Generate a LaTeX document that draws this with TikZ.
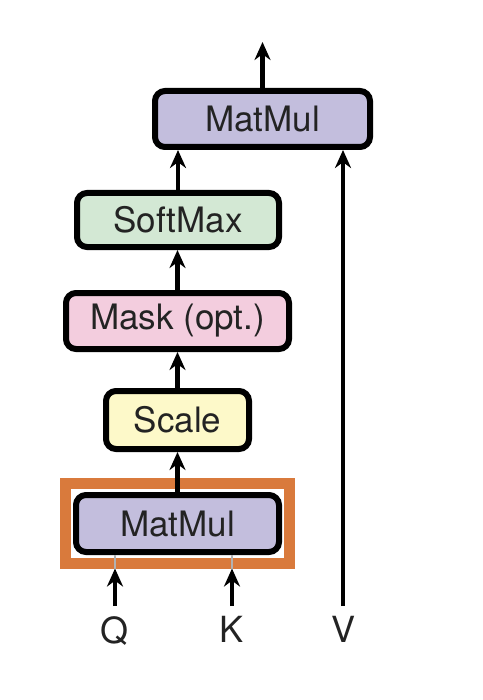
\documentclass[tikz,border=0pt]{standalone}
\usepackage{fontspec}
\setmainfont{TeX Gyre Heros}
\usetikzlibrary{arrows.meta}
\usetikzlibrary{calc,positioning}

\definecolor{mmcol}{RGB}{195,190,221}
\definecolor{smcol}{RGB}{211,232,212}
\definecolor{mkcol}{RGB}{243,205,222}
\definecolor{sccol}{RGB}{253,249,201}
\definecolor{hlcol}{RGB}{217,122,60}
\definecolor{txtcol}{RGB}{35,35,35}

\tikzset{
    block/.style = {draw=black, line width=3pt, rounded corners=5pt, inner sep=0pt,
                    text=txtcol, font=\fontsize{17.5}{20}\selectfont},
    flow/.style  = {->, line width=2.2pt},
    lbl/.style   = {anchor=north, inner sep=5pt, text=txtcol, font=\fontsize{18}{20}\selectfont}
}

\begin{document}
\begin{tikzpicture}[>={Stealth[length=9pt,width=8pt]}, x=0.5pt, y=-0.5pt]

    \useasboundingbox (0,0) rectangle (482,700);

    % blocks, bottom to top
    \node[block, fill=mmcol, minimum width=101.5pt, minimum height=28.5pt] (mm1) at (177.5,523.5) {MatMul};
    \node[block, fill=sccol, minimum width=71.5pt, minimum height=29pt] (scale) at (177.5,420) {Scale};
    \node[block, fill=mkcol, minimum width=111.5pt, minimum height=28pt] (mask) at (177.5,321) {Mask (opt.)};
    \node[block, fill=smcol, minimum width=101pt, minimum height=27pt] (smax) at (178,220) {SoftMax};
    \node[block, fill=mmcol, minimum width=107.5pt, minimum height=28pt] (mm2) at (262.5,119) {MatMul};

    % highlight frame
    \node[draw=hlcol, line width=5.5pt, minimum width=112pt, minimum height=39.75pt] (hl) at (177.25,523.25) {};

    % inputs
    \node[lbl] (q) at (115,606) {Q};
    \node[lbl] (k) at (232,606) {K};
    \node[lbl] (v) at (343,606) {V};

    \draw[gray!60, line width=0.6pt] (q |- hl.south) -- (q |- mm1.south);
    \draw[gray!60, line width=0.6pt] (k |- hl.south) -- (k |- mm1.south);

    \draw[flow] (q.north) -- (q |- hl.south);
    \draw[flow] (k.north) -- (k |- hl.south);
    \draw[flow] (v.north) -- (v |- mm2.south);

    \draw[flow] (mm1.north -| scale) -- (scale.south);
    \draw[flow] (scale.north) -- (mask.south);
    \draw[flow] (mask.north) -- (mask.north |- smax.south);
    \draw[flow] (smax.north) -- (smax.north |- mm2.south);

    \coordinate (out) at (262.5,42);
    \draw[flow] (mm2.north) -- (out);
\end{tikzpicture}
\end{document}
